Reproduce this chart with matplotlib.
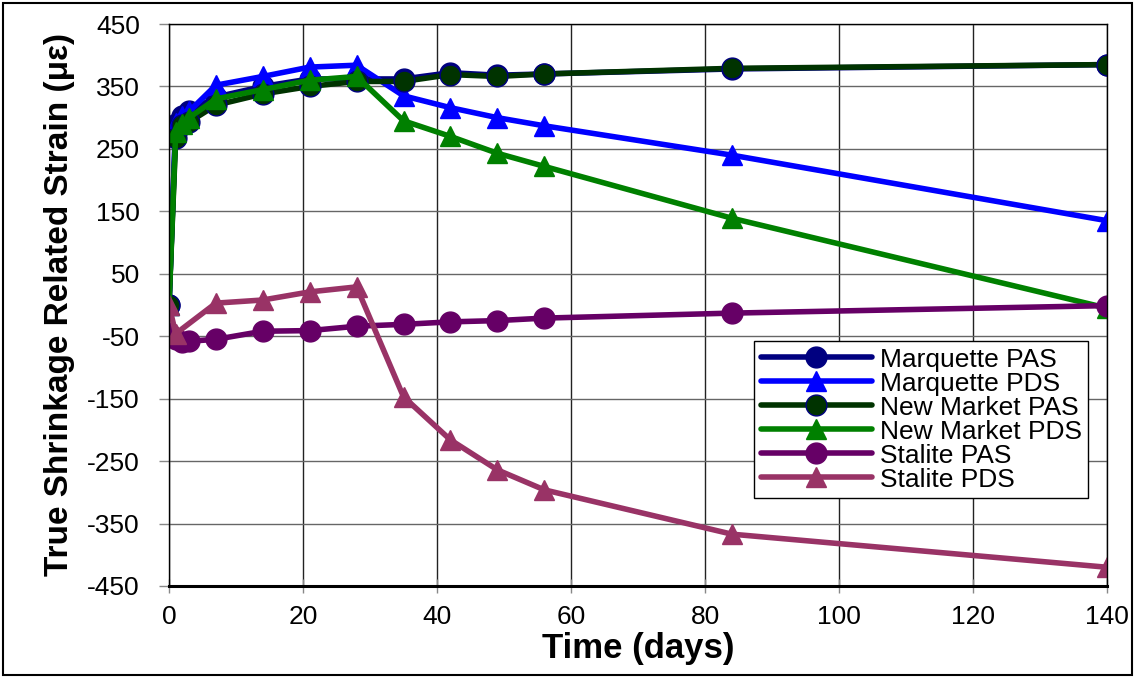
import matplotlib
matplotlib.use("Agg")
import matplotlib.pyplot as plt
from matplotlib.patches import Rectangle

plt.rcParams['font.family'] = ['Liberation Sans', 'DejaVu Sans']
plt.rcParams['axes.unicode_minus'] = False

days = [0, 1, 2, 3, 7, 14, 21, 28, 35, 42, 49, 56, 84, 140]
days_stalite_pds = [0, 1, 7, 14, 21, 28, 35, 42, 49, 56, 84, 140]

marquette_pas = [0, 290, 303, 310, 333, 350, 362, 362, 362, 372, 368, 370, 378, 385]
marquette_pds = [0, 292, 302, 310, 352, 366, 381, 384, 335, 316, 300, 287, 240, 135]
newmarket_pas = [0, 268, 288, 293, 320, 338, 350, 358, 358, 369, 366, 370, 379, 385]
newmarket_pds = [0, 277, 290, 300, 330, 345, 360, 366, 295, 270, 243, 222, 139, -5]
stalite_pas = [-45, -55, -60, -58, -55, -42, -41, -34, -31, -27, -25, -21, -13, -1]
stalite_pds = [0, -46, 3, 8, 21, 29, -147, -216, -264, -296, -367, -420]

series = [
    ("Marquette PAS", days, marquette_pas, "#000080", "o", "#000080"),
    ("Marquette PDS", days, marquette_pds, "#0000FF", "^", "#0000FF"),
    ("New Market PAS", days, newmarket_pas, "#003300", "o", "#000080"),
    ("New Market PDS", days, newmarket_pds, "#008000", "^", "#008000"),
    ("Stalite PAS", days, stalite_pas, "#660066", "o", "#660066"),
    ("Stalite PDS", days_stalite_pds, stalite_pds, "#993366", "^", "#993366"),
]

fig = plt.figure(figsize=(11.38, 6.78), dpi=100)
ax = fig.add_axes([0.1485, 0.1357, 0.9728 - 0.1485, 0.9646 - 0.1357])

for label, x, vals, color, marker, edge in series:
    ax.plot(x, vals, color=color, lw=4.0, marker=marker, ms=15,
            markerfacecolor=color, markeredgecolor=edge, markeredgewidth=1.0,
            label=label, solid_capstyle='round')

ax.set_xlim(0, 140)
ax.set_ylim(-450, 450)
ax.set_xticks(range(0, 141, 20))
ax.set_yticks(range(-450, 451, 100))
ax.grid(True, axis='x', color="#222222", lw=1.0)
ax.grid(True, axis='y', color="#666666", lw=1.0)
ax.set_axisbelow(True)
for s in ax.spines.values():
    s.set_color("black")
    s.set_linewidth(1.0)
ax.spines['bottom'].set_linewidth(2.2)

ax.tick_params(axis='y', direction='out', length=7, width=1, labelsize=19, pad=14,
               colors='#888888', labelcolor='black')
ax.tick_params(axis='x', direction='inout', length=10, width=1, labelsize=19, pad=9,
               colors='#888888', labelcolor='black')

ax.set_xlabel("Time (days)", fontsize=25, fontweight='bold', labelpad=2)
ax.set_ylabel("True Shrinkage Related Strain (\u03bc\u03b5)", fontsize=24,
              fontweight='bold', labelpad=9)

leg = ax.legend(loc='upper right', bbox_to_anchor=(0.98, 0.436), fontsize=19,
                frameon=True, fancybox=False, edgecolor='black', framealpha=1,
                handlelength=4.2, labelspacing=0.0, borderpad=0.25,
                handletextpad=0.3, numpoints=1, borderaxespad=0)
leg.get_frame().set_linewidth(1.0)

fig.patches.append(Rectangle((0.003, 0.004), 0.992, 0.992, transform=fig.transFigure,
                             fill=False, edgecolor='black', lw=1.5))

fig.savefig("out.png", dpi=100)
